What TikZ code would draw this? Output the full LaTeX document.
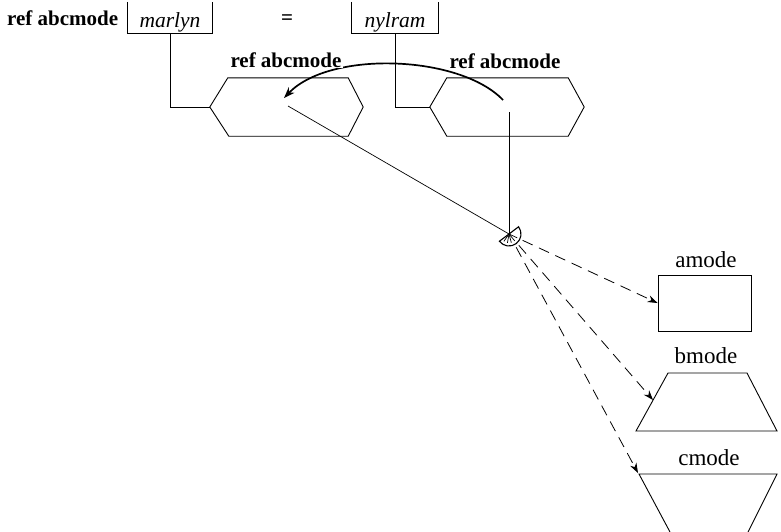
\documentclass[tikz,border=0pt]{standalone}
\usepackage{fontspec}
\setmainfont{Liberation Serif}
\usetikzlibrary{arrows.meta}
\begin{document}
\begin{tikzpicture}[x=1pt,y=-1pt,
  lbl/.style={font=\fontsize{21}{24}\selectfont\bfseries, inner sep=1pt},
  modelbl/.style={font=\fontsize{23}{26}\selectfont, inner sep=1pt},
  ital/.style={font=\fontsize{21.5}{24}\selectfont\itshape, inner sep=0pt, minimum height=21pt},
  line/.style={line width=0.9pt},
  thinline/.style={line width=0.7pt},
  curvearrow/.style={line width=1.7pt, -{Stealth[length=11pt,width=8pt]}},
  dasharrow/.style={line width=0.8pt, dash pattern=on 11pt off 7pt, -{Stealth[length=10pt,width=7pt]}, shorten <=15pt}
]
\useasboundingbox (0,0) rectangle (781,531);

% top line
\node[lbl, anchor=base west] (t) at (6,25) {ref abcmode};
\node[ital, minimum width=84pt] (m) at (170,22.5) {marlyn};
\draw[line] ([yshift=10pt]m.north west) -- (m.south west) -- (m.south east) -- ([yshift=10pt]m.north east);
\node[lbl, anchor=base] (eq) at (287,24) {=};
\node[ital, minimum width=86pt] (n) at (395,22.5) {nylram};
\draw[line] ([yshift=10pt]n.north west) -- (n.south west) -- (n.south east) -- ([yshift=10pt]n.north east);

% hexagons
\node[minimum width=153pt, minimum height=58pt, inner sep=0] (h1) at (286.5,107) {};
\draw[line] (h1.west) -- ([xshift=18pt]h1.north west) -- ([xshift=-15pt]h1.north east) -- (h1.east)
  -- ([xshift=-15pt]h1.south east) -- ([xshift=19pt]h1.south west) -- cycle;
\node[minimum width=154pt, minimum height=58pt, inner sep=0] (h2) at (507,107) {};
\draw[line] (h2.west) -- ([xshift=17pt]h2.north west) -- ([xshift=-16pt]h2.north east) -- (h2.east)
  -- ([xshift=-16pt]h2.south east) -- ([xshift=17pt]h2.south west) -- cycle;

% stems
\draw[line] (m.south) |- (h1.west);
\draw[line] (n.south) |- (h2.west);

% pointer points
\coordinate (c1) at (284,98);
\coordinate (c2) at (503,100);
\coordinate (p1) at (288,106);
\coordinate (p2) at (509,112);
\coordinate (s) at (509,234);

% curved arrow (behind labels)
\draw[curvearrow] (c2) .. controls (460,55) and (330,50) .. (c1);

% labels
\node[lbl, fill=white, anchor=base] (l1) at (286,67) {ref abcmode};
\node[lbl, fill=white, anchor=base, inner sep=0pt] (l2) at (505,68) {ref abcmode};

% lines to the semicircle
\draw[thinline] (p1) -- (s);
\draw[line] (p2) -- (s);

% semicircle symbol
\draw[line width=1.1pt, fill=white] (s) ++(37:12pt) arc[start angle=37, end angle=-143, radius=12pt] -- cycle;
\foreach \a in {-25,-50,-75,-100,-125} \draw[line width=0.7pt] (s) -- ++(\a:9pt);

% targets
\node[draw, line, minimum width=93pt, minimum height=56pt, inner sep=0] (a) at (704.5,303) {};
\node[modelbl, anchor=base] (al) at (706,267) {amode};
\draw[line] (668,373) -- (747,373) -- (777,431) -- (636,431) -- cycle;
\coordinate (bL) at (653,400);
\node[modelbl, anchor=base] (bl) at (706,363) {bmode};
\draw[line] (670,532) -- (639,474) -- (777,474) -- (748,532);
\coordinate (cL) at (638,473);
\node[modelbl, anchor=base] (cl) at (709,465) {cmode};

% dashed arrows
\draw[dasharrow] (s) -- (a.west);
\draw[dasharrow] (s) -- (bL);
\draw[dasharrow] (s) -- (cL);
\end{tikzpicture}
\end{document}
